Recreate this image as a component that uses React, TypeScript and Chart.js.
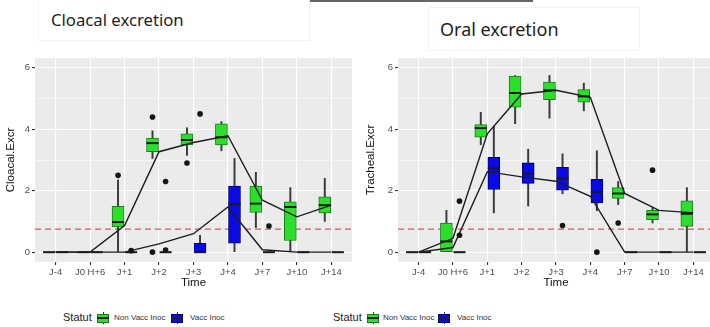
import React, { useEffect, useRef } from "react";
import { Chart, registerables } from "chart.js";

Chart.register(...registerables);

const CATEGORIES = ["J-4", "J0 H+6", "J+1", "J+2", "J+3", "J+4", "J+7", "J+10", "J+14"];
const Y_TICKS = [0, 1, 2, 3, 4, 5, 6];
const THRESHOLD = 0.75;
const SERIES_NAMES = ["Non Vacc Inoc", "Vacc Inoc"];

// ---- Cloacal excretion : Non Vacc Inoc
const CLO_NV_MIN = [0, 0, 0, 3.05, 3.15, 3.3, 0.8, 0, 1.0];
const CLO_NV_Q1 = [0, 0, 0.82, 3.27, 3.49, 3.49, 1.29, 0.38, 1.28];
const CLO_NV_MED = [0, 0, 0.98, 3.55, 3.65, 3.74, 1.58, 1.47, 1.53];
const CLO_NV_Q3 = [0, 0, 1.49, 3.71, 3.85, 4.18, 2.15, 1.64, 1.8];
const CLO_NV_MAX = [0, 0, 2.35, 3.95, 4.05, 4.25, 2.6, 2.1, 2.4];
const CLO_NV_OUT = [[2, 2.5], [3, 4.4], [3, 0], [4, 2.9]];
const CLO_NV_MEAN = [0, 0, 0.87, 3.27, 3.57, 3.79, 1.69, 1.15, 1.53];

// ---- Cloacal excretion : Vacc Inoc
const CLO_V_MIN = [0, 0, 0, 0, 0, 0, 0, 0, 0];
const CLO_V_Q1 = [0, 0, 0, 0, 0, 0.29, 0, 0, 0];
const CLO_V_MED = [0, 0, 0, 0, 0, 1.56, 0, 0, 0];
const CLO_V_Q3 = [0, 0, 0, 0, 0.29, 2.15, 0, 0, 0];
const CLO_V_MAX = [0, 0, 0, 0, 0.55, 3.05, 0, 0, 0];
const CLO_V_OUT = [[2, 0.05], [3, 2.3], [3, 0.07], [4, 4.5], [6, 0.85]];
const CLO_V_MEAN = [0, 0, 0, 0.27, 0.6, 1.47, 0.08, 0, 0];

// ---- Oral excretion : Non Vacc Inoc
const ORA_NV_MIN = [0, 0, 3.5, 4.18, 4.36, 4.6, 1.55, 0.95, 0];
const ORA_NV_Q1 = [0, 0, 3.74, 4.72, 4.96, 4.88, 1.75, 1.06, 0.84];
const ORA_NV_MED = [0, 0.35, 4.04, 5.18, 5.27, 5.07, 1.91, 1.23, 1.25];
const ORA_NV_Q3 = [0, 0.95, 4.15, 5.73, 5.54, 5.29, 2.1, 1.36, 1.67];
const ORA_NV_MAX = [0, 1.36, 4.55, 5.75, 5.75, 5.5, 2.3, 1.45, 2.1];
const ORA_NV_OUT = [[6, 0.95], [7, 2.67]];
const ORA_NV_MEAN = [0, 0.45, 3.85, 5.15, 5.27, 5.04, 1.91, 1.36, 1.28];

// ---- Oral excretion : Vacc Inoc
const ORA_V_MIN = [0, 0, 1.28, 1.5, 1.9, 1.35, 0, 0, 0];
const ORA_V_Q1 = [0, 0, 2.04, 2.24, 2.02, 1.6, 0, 0, 0];
const ORA_V_MED = [0, 0, 2.73, 2.56, 2.4, 1.96, 0, 0, 0];
const ORA_V_Q3 = [0, 0, 3.09, 2.91, 2.76, 2.37, 0, 0, 0];
const ORA_V_MAX = [0, 0, 4.1, 3.35, 3.2, 3.3, 0, 0, 0];
const ORA_V_OUT = [[1, 1.66], [1, 0.55], [4, 0.87], [5, 0]];
const ORA_V_MEAN = [0, 0.15, 2.62, 2.45, 2.31, 1.82, 0, 0, 0];

const GREEN = "#2BE02B";
const GREEN_BORDER = "#1E7A1E";
const BLUE = "#0A0AE6";
const BLUE_BORDER = "#00006E";
const DODGE = 0.19;

type Box = {
  min: number[]; q1: number[]; med: number[]; q3: number[]; max: number[];
  out: number[][]; mean: number[]; fill: string; border: string; offset: number; name: string;
};

const CLOACAL: Box[] = [
  { min: CLO_NV_MIN, q1: CLO_NV_Q1, med: CLO_NV_MED, q3: CLO_NV_Q3, max: CLO_NV_MAX, out: CLO_NV_OUT, mean: CLO_NV_MEAN, fill: GREEN, border: GREEN_BORDER, offset: -DODGE, name: SERIES_NAMES[0] },
  { min: CLO_V_MIN, q1: CLO_V_Q1, med: CLO_V_MED, q3: CLO_V_Q3, max: CLO_V_MAX, out: CLO_V_OUT, mean: CLO_V_MEAN, fill: BLUE, border: BLUE_BORDER, offset: DODGE, name: SERIES_NAMES[1] },
];
const ORAL: Box[] = [
  { min: ORA_NV_MIN, q1: ORA_NV_Q1, med: ORA_NV_MED, q3: ORA_NV_Q3, max: ORA_NV_MAX, out: ORA_NV_OUT, mean: ORA_NV_MEAN, fill: GREEN, border: GREEN_BORDER, offset: -DODGE, name: SERIES_NAMES[0] },
  { min: ORA_V_MIN, q1: ORA_V_Q1, med: ORA_V_MED, q3: ORA_V_Q3, max: ORA_V_MAX, out: ORA_V_OUT, mean: ORA_V_MEAN, fill: BLUE, border: BLUE_BORDER, offset: DODGE, name: SERIES_NAMES[1] },
];

function buildDatasets(series: Box[]): any[] {
  const ds: any[] = [];
  series.forEach((s) => {
    ds.push({
      type: "bar", label: s.name + " whisker",
      data: CATEGORIES.map((_, i) => ({ x: i + s.offset, y: [s.min[i], s.max[i]] })),
      backgroundColor: "#3a3a3a", borderWidth: 0, grouped: false,
      barThickness: 1.3, maxBarThickness: 1.3, order: 6,
    });
    ds.push({
      type: "bar", label: s.name,
      data: CATEGORIES.map((_, i) => ({ x: i + s.offset, y: [s.q1[i], s.q3[i]] })),
      backgroundColor: s.fill, borderColor: s.border, borderWidth: 1, borderSkipped: false,
      grouped: false, barThickness: 12, maxBarThickness: 12, order: 5,
    });
    ds.push({
      type: "line", label: s.name + " median", showLine: false,
      data: CATEGORIES.map((_, i) => ({ x: i + s.offset, y: s.med[i] })),
      pointStyle: "line", pointRadius: 6, pointBorderWidth: 2, pointBorderColor: "#1a1a1a",
      pointBackgroundColor: "#1a1a1a", order: 4,
    });
  });
  series.forEach((s) => {
    ds.push({
      type: "line", label: s.name + " mean",
      data: CATEGORIES.map((_, i) => ({ x: i, y: s.mean[i] })),
      borderColor: "#1c1c1c", borderWidth: 1.4, pointRadius: 0, tension: 0, order: 2,
    });
  });
  series.forEach((s) => {
    ds.push({
      type: "line", label: s.name + " outliers", showLine: false,
      data: s.out.map(([i, v]) => ({ x: i + s.offset, y: v })),
      pointStyle: "circle", pointRadius: 2.8, pointBackgroundColor: "#151515",
      pointBorderWidth: 0, order: 1,
    });
  });
  return ds;
}

const panelPlugin = {
  id: "panelBg",
  beforeDraw(chart: any) {
    const { ctx, chartArea } = chart;
    ctx.save();
    ctx.fillStyle = "#EBEBEB";
    ctx.fillRect(chartArea.left, chartArea.top, chartArea.right - chartArea.left, chartArea.bottom - chartArea.top);
    ctx.restore();
  },
  beforeDatasetsDraw(chart: any) {
    const { ctx, chartArea, scales } = chart;
    const y = scales.y.getPixelForValue(THRESHOLD);
    ctx.save();
    ctx.strokeStyle = "#D55A5A";
    ctx.lineWidth = 1.3;
    ctx.setLineDash([6, 4]);
    ctx.beginPath();
    ctx.moveTo(chartArea.left, y);
    ctx.lineTo(chartArea.right, y);
    ctx.stroke();
    ctx.restore();
  },
};

const FONT = "'Liberation Sans', Arial, sans-serif";

function Panel(props: { series: Box[]; yTitle: string; left: number; width: number; axisWidth: number }) {
  const ref = useRef<HTMLCanvasElement | null>(null);
  useEffect(() => {
    if (!ref.current) return;
    const chart = new Chart(ref.current, {
      type: "bar",
      data: { datasets: buildDatasets(props.series) },
      plugins: [panelPlugin],
      options: {
        animation: false,
        responsive: false,
        events: [],
        layout: { padding: { top: 8, right: 3, left: 0, bottom: 0 } },
        plugins: { legend: { display: false }, tooltip: { enabled: false } },
        scales: {
          x: {
            type: "linear", min: -0.6, max: 8.6, offset: false,
            afterBuildTicks: (s: any) => { s.ticks = CATEGORIES.map((_, i) => ({ value: i })); },
            afterFit: (s: any) => { s.height = 32; },
            grid: { offset: false, color: "#FFFFFF", lineWidth: 1.1, tickColor: "#333333", tickLength: 3 },
            border: { display: false },
            ticks: {
              autoSkip: false, maxRotation: 0, padding: 2, color: "#4D4D4D",
              font: { family: FONT, size: 9.5 },
              callback: (v: any) => CATEGORIES[v as number],
            },
            title: { display: true, text: "Time", color: "#111", font: { family: FONT, size: 11.5 }, padding: { top: 4 } },
          },
          y: {
            type: "linear", min: -0.32, max: 6.32, stacked: false,
            afterBuildTicks: (s: any) => { s.ticks = Y_TICKS.map((v) => ({ value: v })); },
            afterFit: (s: any) => { s.width = props.axisWidth; },
            grid: {
              color: "#FFFFFF",
              lineWidth: (c: any) => (c.tick && c.tick.value % 2 === 0 ? 1.1 : 0.5),
              tickColor: (c: any) => (c.tick && c.tick.value % 2 === 0 ? "#333333" : "rgba(0,0,0,0)"),
              tickLength: 3,
            },
            border: { display: false },
            ticks: {
              padding: 2, color: "#4D4D4D", font: { family: FONT, size: 9.5 },
              callback: (v: any) => ((v as number) % 2 === 0 ? String(v) : ""),
            },
            title: { display: true, text: props.yTitle, color: "#111", font: { family: FONT, size: 11.5 }, padding: { top: 4 } },
          },
        },
      } as any,
    });
    return () => chart.destroy();
  }, []);
  return (
    <canvas
      ref={ref}
      width={props.width}
      height={244}
      style={{ position: "absolute", left: props.left, top: 50, width: props.width, height: 244 }}
    />
  );
}

function LegendKey(props: { color: string; border: string; left: number }) {
  return (
    <div style={{ position: "absolute", left: props.left, top: 312, width: 12, height: 12 }}>
      <div style={{ position: "absolute", left: 5.5, top: 0, width: 1, height: 12, background: "#333" }} />
      <div style={{ position: "absolute", left: 0, top: 2, width: 10, height: 7, background: props.color, border: "1px solid " + props.border }} />
      <div style={{ position: "absolute", left: 0, top: 5, width: 12, height: 1.5, background: "#222" }} />
    </div>
  );
}

function Legend(props: { x: number[] }) {
  const [statutX, k1, t1, k2, t2] = props.x;
  const txt: React.CSSProperties = { position: "absolute", top: 313, fontFamily: FONT, fontSize: 8, color: "#333", lineHeight: "10px", whiteSpace: "nowrap" };
  return (
    <>
      <div style={{ position: "absolute", left: statutX, top: 311, fontFamily: FONT, fontSize: 11, color: "#222", lineHeight: "13px" }}>Statut</div>
      <LegendKey color={GREEN} border={GREEN_BORDER} left={k1} />
      <div style={{ ...txt, left: t1 }}>{SERIES_NAMES[0]}</div>
      <LegendKey color={BLUE} border={BLUE_BORDER} left={k2} />
      <div style={{ ...txt, left: t2 }}>{SERIES_NAMES[1]}</div>
    </>
  );
}

export default function App() {
  const titleFont: React.CSSProperties = { position: "absolute", fontFamily: "'Noto Sans', 'Open Sans', sans-serif", color: "#1e1e1e", whiteSpace: "nowrap", lineHeight: "24px" };
  return (
    <div style={{ position: "absolute", left: 0, top: 0, width: 710, height: 327, overflow: "hidden", background: "#fff" }}>
      <div style={{ position: "absolute", left: 310, top: 0, width: 223, height: 2, background: "#666" }} />
      <div style={{ position: "absolute", left: 38, top: -2, width: 270, height: 41, border: "1px solid #F3F3F3" }} />
      <div style={{ ...titleFont, fontSize: 16.7, left: 51, top: 8 }}>Cloacal excretion</div>
      <div style={{ position: "absolute", left: 428, top: 7, width: 210, height: 42, border: "1px solid #F3F3F3" }} />
      <div style={{ ...titleFont, fontSize: 18, left: 440, top: 17 }}>Oral excretion</div>
      <Panel series={CLOACAL} yTitle="Cloacal.Excr" left={0} width={360} axisWidth={35} />
      <Panel series={ORAL} yTitle="Tracheal.Excr" left={360} width={362} axisWidth={38} />
      <Legend x={[63, 97, 114, 171, 190]} />
      <Legend x={[333, 367, 383, 438, 457]} />
    </div>
  );
}
